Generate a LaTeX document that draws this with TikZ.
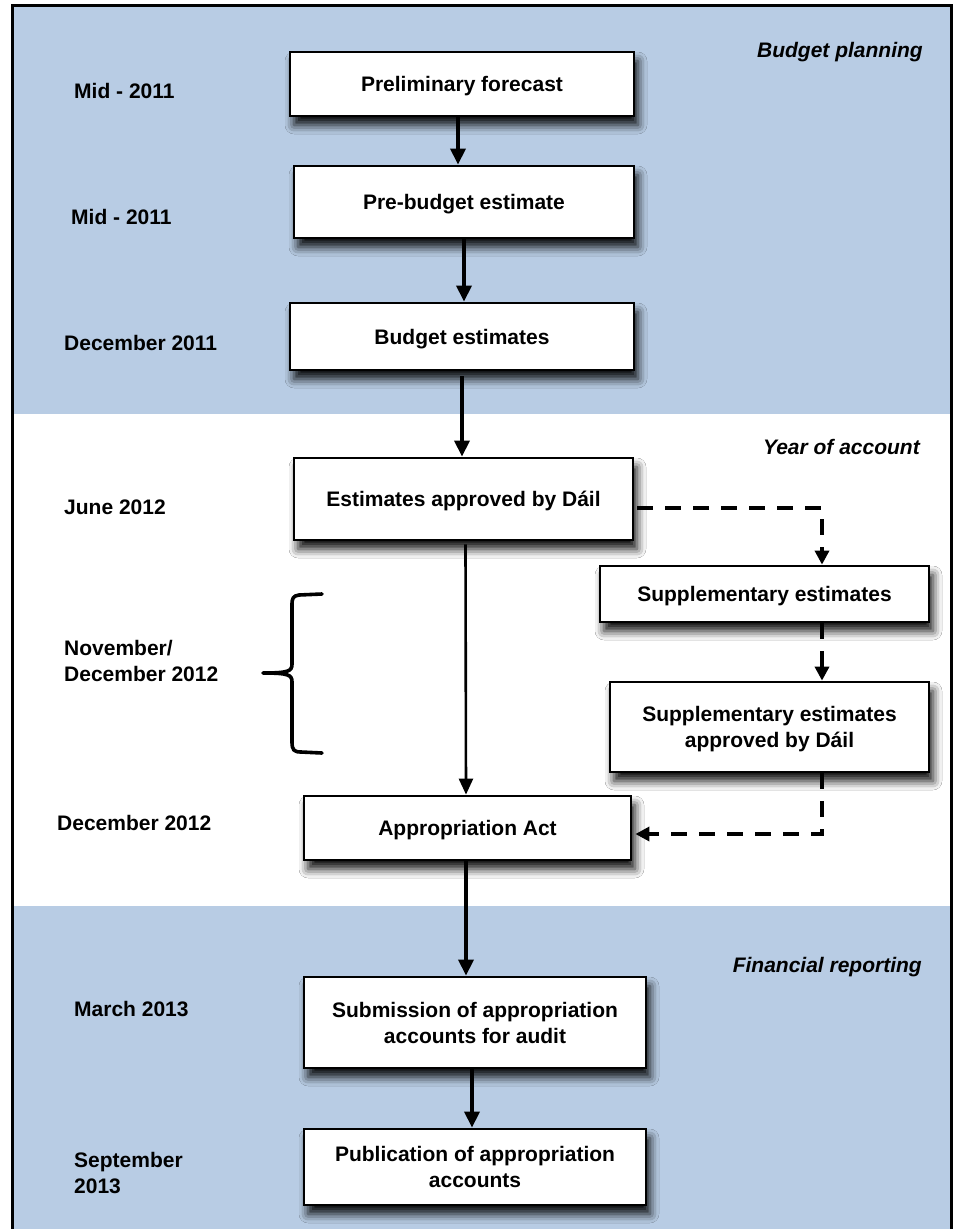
\documentclass[tikz,border=0pt]{standalone}
\usepackage{fontspec}
\setmainfont{Liberation Sans}
\usetikzlibrary{arrows.meta,shadows.blur,calc}
\definecolor{bandblue}{HTML}{B8CCE4}
\newcommand{\boxfont}{\fontsize{21}{26}\selectfont\bfseries}
\newcommand{\lblfont}{\fontsize{21}{26}\selectfont\bfseries}
\newcommand{\sectfont}{\fontsize{21}{26}\selectfont\bfseries\itshape}
\tikzset{
  box/.style={draw=black, line width=2.8pt, fill=white, align=center, font=\boxfont,
    inner sep=4pt, text depth=0pt,
    blur shadow={shadow xshift=4pt, shadow yshift=-9pt, shadow blur radius=9pt, shadow opacity=95}},
  lbl/.style={anchor=west, align=left, font=\lblfont, inner sep=0pt},
  sect/.style={anchor=east, font=\sectfont, inner sep=0pt},
  flow/.style={line width=3.4pt, -{Triangle[width=15pt,length=16pt]}},
  thinflow/.style={line width=2.6pt, -{Triangle[width=14pt,length=16pt]}},
  dflow/.style={line width=3.4pt, dash pattern=on 16pt off 12pt, -{Triangle[width=14pt,length=14pt]}},
  brace/.style={line width=3.6pt, line cap=round, line join=round},
}
\begin{document}
\begin{tikzpicture}[x=1pt,y=-1pt]
\useasboundingbox (0,0) rectangle (954,1229);
% bands
\fill[bandblue] (12,5) rectangle (951,414);
\fill[white] (12,414) rectangle (951,906);
\fill[bandblue] (12,906) rectangle (951,1235);
\draw[line width=3pt] (12,1240) -- (12,5) -- (951,5) -- (951,1240);

% section titles
\node[sect] (t1) at (923,52) {Budget planning};
\node[sect] (t2) at (920,447) {Year of account};
\node[sect] (t3) at (922,967) {Financial reporting};

% date labels
\node[lbl] (d1) at (74,91) {Mid - 2011};
\node[lbl] (d2) at (71,217) {Mid - 2011};
\node[lbl] (d3) at (64,343) {December 2011};
\node[lbl] (d4) at (64,507) {June 2012};
\node[lbl] (d5) at (64,661) {November/\\December 2012};
\node[lbl] (d6) at (57,823) {December 2012};
\node[lbl] (d7) at (74,1009) {March 2013};
\node[lbl] (d8) at (74,1173) {September\\2013};

% boxes
\node[box, minimum width=344pt, minimum height=64pt] (p1) at (462,84) {Preliminary forecast};
\node[box, minimum width=340pt, minimum height=72pt] (p2) at (464,202) {Pre-budget estimate};
\node[box, minimum width=344pt, minimum height=67pt] (p3) at (462,336.5) {Budget estimates};
\node[box, minimum width=339pt, minimum height=82pt] (e4) at (463.5,499) {Estimates approved by Dáil};
\node[box, minimum width=329pt, minimum height=56pt] (s1) at (764.5,594) {Supplementary estimates};
\node[box, minimum width=319pt, minimum height=90pt] (s2) at (769.5,727) {Supplementary estimates\\approved by Dáil};
\node[box, minimum width=327pt, minimum height=64pt] (ap) at (467.5,828) {Appropriation Act};
\node[box, minimum width=342pt, minimum height=91pt] (sub) at (475,1022.5) {Submission of appropriation\\accounts for audit};
\node[box, minimum width=342pt, minimum height=76pt] (pub) at (475,1167) {Publication of appropriation\\accounts};

% solid arrows
\draw[flow] ([xshift=-4pt]p1.south) -- ([xshift=-4pt]p1.south |- p2.north);
\draw[flow] (p2.south) -- (p2.south |- p3.north);
\draw[flow] ([yshift=-5pt]p3.south) -- (p3.south |- e4.north);
\draw[thinflow] ([xshift=2pt,yshift=-3pt]e4.south) -- ([xshift=-1.5pt]ap.north);
\draw[flow] ([xshift=-1.5pt]ap.south) -- ([xshift=-9pt]sub.north);
\draw[flow] ([xshift=-3pt]sub.south) -- ([xshift=-3pt]pub.north);

% dashed arrows
\coordinate (c1) at ([xshift=57.5pt]s1.north);
\coordinate (c2) at ([xshift=57.5pt]s1.south);
\coordinate (c3) at ([xshift=52.5pt]s2.north);
\coordinate (c4) at ([xshift=52.5pt]s2.south);
\draw[dflow] ([xshift=3pt,yshift=-9pt]e4.east) -| (c1);
\draw[dflow] (c2) -- (c3);
\draw[dflow] (c4) |- ([xshift=3pt,yshift=-6pt]ap.east);

% brace
\draw[brace] (322,594) -- (299,595) .. controls (293,596) and (292,598) .. (292,605)
  -- (292,664) .. controls (292,671) and (289,673) .. (263,673)
  .. controls (289,673) and (292,675) .. (292,682)
  -- (292,742) .. controls (292,750) and (294,752) .. (301,752) -- (322,753);
\end{tikzpicture}
\end{document}
